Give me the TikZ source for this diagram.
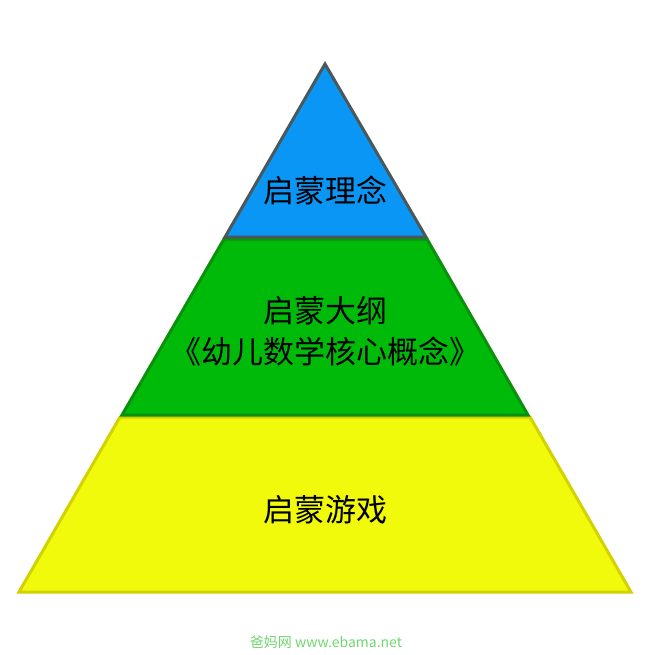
\documentclass[tikz,border=0pt]{standalone}
\usepackage{fontspec}
\newfontfamily\cjk{Noto Sans CJK SC}
\definecolor{tblue}{HTML}{0A96F5}
\definecolor{tbluedraw}{HTML}{4A585C}
\definecolor{tgreen}{HTML}{00BA0A}
\definecolor{tgreendraw}{HTML}{0A900A}
\definecolor{tyellow}{HTML}{F0FA0A}
\definecolor{tyellowdraw}{HTML}{D2D200}
\definecolor{wmark}{HTML}{70D870}
\tikzset{
  tier/.style={line width=3pt, line join=miter},
  lbl/.style={font=\cjk\fontsize{31}{41}\selectfont, align=center, text=black},
}
\begin{document}
\begin{tikzpicture}[x=1pt,y=-1pt]
\useasboundingbox (0,0) rectangle (651,655);
\fill[white] (0,0) rectangle (651,655);
% bottom tier
\filldraw[tier, fill=tyellow, draw=tyellowdraw] (120,417) -- (530,417) -- (631,592) -- (19,592) -- cycle;
% middle tier
\filldraw[tier, fill=tgreen, draw=tgreendraw] (224,239) -- (427,239) -- (528,415) -- (122,415) -- cycle;
% top tier
\filldraw[tier, fill=tblue, draw=tbluedraw] (325,64) -- (426,237) -- (225,237) -- cycle;
% labels
\node[lbl] (top) at (325,190) {启蒙理念};
\node[lbl] (mid) at (325,331) {启蒙大纲\\《幼儿数学核心概念》};
\node[lbl] (bot) at (325,510) {启蒙游戏};
\node[font=\cjk\fontsize{14}{16}\selectfont, text=wmark] (wm) at (326,642) {爸妈网 www.ebama.net};
\end{tikzpicture}
\end{document}
